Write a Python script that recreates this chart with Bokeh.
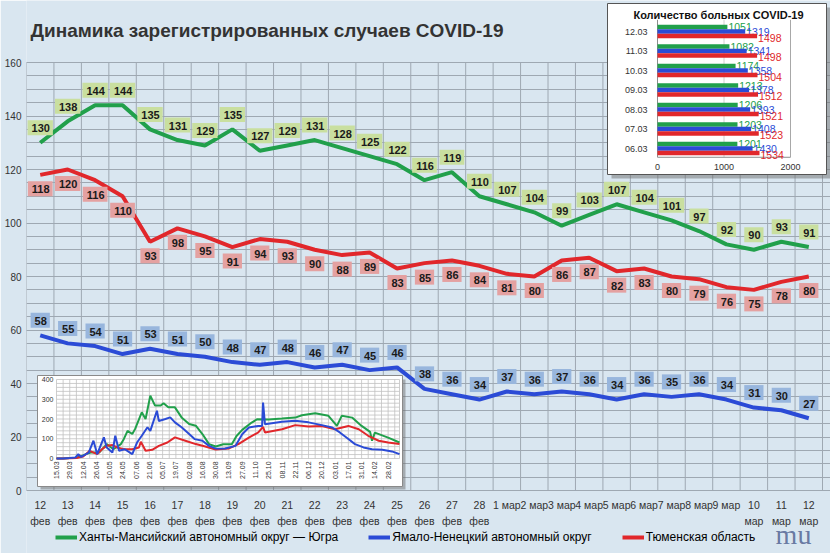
import math
from bokeh.plotting import figure
from bokeh.models import FixedTicker, Range1d, Legend, LegendItem, ColumnDataSource
from bokeh.core.properties import value
from bokeh.embed import file_html
from bokeh.resources import INLINE

# main chart: daily counts 12 feb .. 12 mar
days = ["12\nфев", "13\nфев", "14\nфев", "15\nфев", "16\nфев", "17\nфев", "18\nфев",
        "19\nфев", "20\nфев", "21\nфев", "22\nфев", "23\nфев", "24\nфев", "25\nфев",
        "26\nфев", "27\nфев", "28\nфев", "1 мар", "2 мар", "3 мар", "4 мар", "5 мар",
        "6 мар", "7 мар", "8 мар", "9 мар", "10\nмар", "11\nмар", "12\nмар"]
hmao = [130, 138, 144, 144, 135, 131, 129, 135, 127, 129, 131, 128, 125, 122, 116,
        119, 110, 107, 104, 99, 103, 107, 104, 101, 97, 92, 90, 93, 91]
yanao = [58, 55, 54, 51, 53, 51, 50, 48, 47, 48, 46, 47, 45, 46, 38, 36, 34, 37, 36,
         37, 36, 34, 36, 35, 36, 34, 31, 30, 27]
tyumen = [118, 120, 116, 110, 93, 98, 95, 91, 94, 93, 90, 88, 89, 83, 85, 86, 84, 81,
          80, 86, 87, 82, 83, 80, 79, 76, 75, 78, 80]
y_ticks = [0, 20, 40, 60, 80, 100, 120, 140, 160]

# top-right inset: number of sick people
bar_dates = ["06.03", "07.03", "08.03", "09.03", "10.03", "11.03", "12.03"]
bar_hmao = [1201, 1203, 1206, 1213, 1174, 1082, 1051]
bar_yanao = [1430, 1408, 1393, 1378, 1358, 1341, 1319]
bar_tyumen = [1534, 1523, 1521, 1512, 1504, 1498, 1498]
bar_ticks = [0, 1000, 2000]

# bottom-left inset: whole epidemic, days since 15.03.2020
curve_ticks = ["15.03", "29.03", "12.04", "26.04", "10.05", "24.05", "07.06", "21.06",
               "05.07", "19.07", "02.08", "16.08", "30.08", "13.09", "27.09", "11.10",
               "25.10", "08.11", "22.11", "06.12", "20.12", "03.01", "17.01", "31.01",
               "14.02", "28.02"]
curve_yticks = [0, 100, 200, 300, 400]
hmao_curve_day = [0, 7, 14, 21, 28, 31, 36, 45, 53, 60, 68, 71, 75, 80, 83, 90, 94, 99,
                  104, 110, 113, 118, 125, 132, 140, 147, 154, 161, 168, 176, 185, 190,
                  196, 206, 212, 224, 238, 252, 259, 273, 287, 296, 301, 312, 322, 331,
                  333, 336, 350, 362]
hmao_curve = [0, 0, 2, 4, 15, 22, 30, 30, 73, 47, 73, 98, 140, 124, 150, 234, 200, 318,
              268, 268, 280, 259, 259, 208, 175, 166, 124, 73, 61, 72, 72, 114, 145, 182,
              199, 198, 202, 207, 219, 229, 216, 165, 216, 207, 165, 135, 90, 131, 106, 81]
yanao_curve_day = [0, 7, 14, 20, 23, 26, 34, 39, 43, 50, 53, 59, 62, 66, 72, 80, 85, 90,
                   96, 99, 106, 108, 115, 120, 125, 132, 140, 146, 154, 161, 168, 178,
                   189, 196, 203, 213, 217, 218, 220, 238, 252, 266, 280, 291, 299, 306,
                   315, 324, 333, 344, 354, 362]
yanao_curve = [0, 0, 2, 5, 22, 8, 30, 90, 22, 107, 56, 30, 115, 39, 47, 22, 81, 115, 158,
               140, 242, 190, 200, 208, 183, 158, 124, 98, 90, 64, 50, 51, 64, 123, 157,
               165, 165, 283, 174, 186, 191, 183, 169, 157, 132, 106, 73, 56, 47, 44, 36, 22]
tyumen_curve_day = [0, 7, 14, 21, 28, 31, 35, 43, 48, 53, 59, 64, 71, 80, 87, 89, 94, 101,
                    108, 117, 125, 136, 147, 157, 168, 182, 192, 203, 213, 218, 220, 238,
                    252, 266, 280, 294, 308, 319, 329, 340, 350, 362]
tyumen_curve = [0, 0, 1, 3, 10, 22, 39, 22, 47, 64, 68, 56, 47, 47, 56, 85, 39, 44, 64, 81,
                107, 90, 73, 61, 45, 51, 73, 106, 132, 160, 132, 148, 169, 162, 165, 148,
                165, 148, 115, 90, 81, 73]

GREEN = "#21a04b"
BLUE = "#2b4bd6"
RED = "#e1272b"
GRID = "#9ea8b2"
FONT = "Liberation Sans"

W, H = 830, 553
FL, GR = 26, 822          # left edge of the frame and right edge of the grid
ZERO = 490                # page y of the value 0
n = len(days)
ky = (ZERO - 62) / y_ticks[-1]        # pixels per unit, 160 sits at y=62


def px(x):
    # page pixel -> main data x
    return -0.5 + (x - FL) * n / (GR - FL)


def py(y):
    # page pixel -> main data y
    return (ZERO - y) / ky


p = figure(width=W, height=H, x_range=Range1d(px(FL), px(W)),
           y_range=Range1d(py(H), py(0)),
           output_backend="svg", toolbar_location=None,
           min_border_left=FL, min_border_right=0, min_border_top=0,
           min_border_bottom=0, x_axis_location=None)
p.background_fill_color = "#d9e6f0"
p.border_fill_color = "#d9e6f0"
p.outline_line_color = None

p.yaxis.ticker = FixedTicker(ticks=y_ticks, minor_ticks=list(range(0, 161, 5)))
p.yaxis.axis_line_color = None
p.yaxis.major_tick_line_color = None
p.yaxis.minor_tick_line_color = None
p.yaxis.major_tick_out = 0
p.yaxis.minor_tick_out = 0
p.yaxis.major_label_standoff = 5
p.yaxis.major_label_text_font = FONT
p.yaxis.major_label_text_font_size = "10px"
p.yaxis.major_label_text_color = "#333333"
p.ygrid.grid_line_color = GRID
p.ygrid.minor_grid_line_color = GRID
p.xgrid.grid_line_color = None

xs = list(range(n))
bounds = [i - 0.5 for i in range(n + 1)]
p.segment(x0=bounds, y0=0, x1=bounds, y1=y_ticks[-1], line_color=GRID, line_width=1)

# category labels under the plot area
p.text(x=xs, y=py(498), text=days, text_align="center", text_baseline="top",
       text_font=value(FONT), text_font_size="10.5px", text_color="#333333",
       text_line_height=1.35)

p.text(x=[px(30)], y=[py(30)], text=["Динамика зарегистрированных случаев COVID-19"],
       text_font=value(FONT), text_font_size="19px", text_font_style="bold",
       text_color="#333333", text_baseline="middle")

series = [
    (hmao, GREEN, "#c9df9f", -15, "Ханты-Мансийский автономный округ — Югра"),
    (yanao, BLUE, "#98b6dd", -15, "Ямало-Ненецкий автономный округ"),
    (tyumen, RED, "#e4a1a1", 14, "Тюменская область"),
]
items = []
for vals, color, box, off, name in series:
    r = p.line(xs, vals, line_color=color, line_width=4)
    src = ColumnDataSource(dict(x=xs, y=vals, t=[str(v) for v in vals]))
    p.text(x="x", y="y", text="t", source=src, y_offset=off, text_align="center",
           text_baseline="middle", text_font=value(FONT), text_font_size="11px",
           text_font_style="bold", text_color="#1a1a1a", background_fill_color=box,
           padding=[4, 3, 4, 3])
    items.append(LegendItem(label=name, renderers=[r]))

# ---- top-right inset
p.quad(left=px(611), right=px(830), top=py(7), bottom=py(178), fill_color="#6f6f6f",
       fill_alpha=0.5, line_color=None)
p.quad(left=px(607), right=px(826), top=py(3), bottom=py(174), fill_color="white",
       line_color="#555555")
p.text(x=[px(718)], y=[py(14)], text=["Количество больных COVID-19"],
       text_font=value(FONT), text_font_size="11px", text_font_style="bold",
       text_color="#111111", text_align="center", text_baseline="middle")

cat = list(range(len(bar_dates)))
bx = p.subplot(x_source=Range1d(0, 2000), y_source=Range1d(0, len(cat) - 1),
               x_target=Range1d(px(657), px(790)), y_target=Range1d(py(148), py(31)))
bx.segment(x0=bar_ticks[1:], y0=-0.45, x1=bar_ticks[1:], y1=6.6,
           line_color=["#d0d0d0", "#a8a8a8"], line_width=1)
bx.segment(x0=[0, 0], y0=[-0.45, -0.45], x1=[0, 2000], y1=[6.6, -0.45],
           line_color="#8c8c8c", line_width=1)
for vals, color, shift, dy in [(bar_hmao, GREEN, 0.23, 0), (bar_yanao, BLUE, 0, 0),
                               (bar_tyumen, RED, -0.23, 2)]:
    ys = [c + shift for c in cat]
    bx.hbar(y=ys, left=0, right=vals, height=0.23, fill_color=color, line_color=None)
    bx.text(x=vals, y=ys, text=[str(v) for v in vals], x_offset=1, y_offset=dy,
            text_baseline="middle", text_font=value(FONT), text_font_size="10.5px",
            text_color=color)
bx.text(x=0, y=cat, text=bar_dates, x_offset=-10, text_align="right",
        text_baseline="middle", text_font=value(FONT), text_font_size="9px",
        text_color="#333333")
bx.text(x=bar_ticks, y=-0.93, text=[str(t) for t in bar_ticks], text_align="center",
        text_baseline="middle", text_font=value(FONT), text_font_size="9px",
        text_color="#333333")

# ---- bottom-left inset
p.quad(left=px(40), right=px(405), top=py(379), bottom=py(489), fill_color="#6f6f6f",
       fill_alpha=0.5, line_color=None)
p.quad(left=px(37), right=px(402), top=py(375), bottom=py(486), fill_color="white",
       line_color="#8a8a8a")
cx = p.subplot(x_source=Range1d(0, 362), y_source=Range1d(0, 400),
               x_target=Range1d(px(56), px(399)), y_target=Range1d(py(458), py(379)))
hl = list(range(0, 401, 20))
vl = list(range(0, 362, 7)) + [362]
cx.segment(x0=0, y0=hl, x1=362, y1=hl, line_color="#c2c2c2", line_width=0.8)
cx.segment(x0=vl, y0=0, x1=vl, y1=400, line_color="#c2c2c2", line_width=0.8)
cx.text(x=0, y=curve_yticks, text=[str(t) for t in curve_yticks], x_offset=-3,
        text_align="right", text_baseline="middle", text_font=value(FONT),
        text_font_size="7px", text_color="#333333")
cx.text(x=list(range(0, 14 * len(curve_ticks), 14)), y=-15, text=curve_ticks,
        angle=math.pi / 2, text_align="right", text_baseline="middle",
        text_font=value(FONT), text_font_size="7px", text_color="#333333")
cx.line(hmao_curve_day, hmao_curve, line_color=GREEN, line_width=2)
cx.line(tyumen_curve_day, tyumen_curve, line_color=RED, line_width=2)
cx.line(yanao_curve_day, yanao_curve, line_color=BLUE, line_width=2)

# publisher mark, bottom right
p.text(x=[px(793)], y=[py(534)], text=["mu"], text_align="center",
       text_baseline="middle", text_font=value("Liberation Serif"),
       text_font_size="28px", text_color="#4a5c8e", text_alpha=0.8)

legend = Legend(items=items, orientation="horizontal", location=(29, 8), spacing=30,
                glyph_width=22, glyph_height=14, label_height=16,
                label_text_font=FONT, label_text_font_size="12px",
                label_text_color="#000000", label_standoff=2, padding=0, margin=0,
                background_fill_alpha=0, border_line_color=None)
p.add_layout(legend)

open("out.html", "w").write(file_html(p, INLINE))
